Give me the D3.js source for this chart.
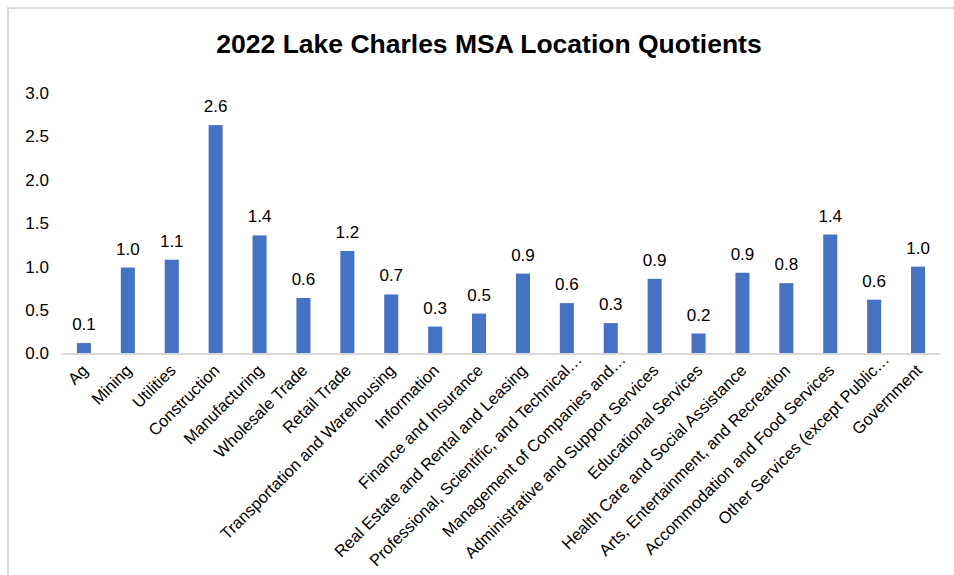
<!DOCTYPE html>
<html>
<head>
<meta charset="utf-8">
<script src="https://cdn.jsdelivr.net/npm/d3@7"></script>
<style>
  html, body { margin: 0; padding: 0; background: #fff; }
  svg { display: block; font-family: "Liberation Sans", Arial, sans-serif; }
</style>
</head>
<body>
<svg id="chart" width="954" height="575"></svg>
<script>
// Industry categories (as labelled on the axis)
const categories = [
  "Ag", "Mining", "Utilities", "Construction", "Manufacturing", "Wholesale Trade",
  "Retail Trade", "Transportation and Warehousing", "Information",
  "Finance and Insurance", "Real Estate and Rental and Leasing",
  "Professional, Scientific, and Technical…", "Management of Companies and…",
  "Administrative and Support Services", "Educational Services",
  "Health Care and Social Assistance", "Arts, Entertainment, and Recreation",
  "Accommodation and Food Services", "Other Services (except Public…", "Government"
];

// Location quotient per industry
const quotients = [
  0.12, 0.99, 1.08, 2.63, 1.36, 0.64,
  1.18, 0.68, 0.31,
  0.46, 0.92,
  0.58, 0.35,
  0.86, 0.23,
  0.93, 0.81,
  1.37, 0.62, 1.0
];

const yTicks = [0, 0.5, 1.0, 1.5, 2.0, 2.5, 3.0];
const title = "2022 Lake Charles MSA Location Quotients";

const svg = d3.select("#chart");

// chart frame
svg.append("path")
  .attr("d", "M8,575 V8 H954")
  .attr("fill", "none")
  .attr("stroke", "#d9d9d9")
  .attr("stroke-width", 2);

svg.append("text")
  .attr("x", 489)
  .attr("y", 53)
  .attr("text-anchor", "middle")
  .attr("font-size", 26.5)
  .attr("font-weight", "bold")
  .attr("fill", "#000")
  .text(title);

const x = d3.scaleBand()
  .domain(categories)
  .range([62, 940])
  .paddingInner(0.68)
  .paddingOuter(0.34);

const y = d3.scaleLinear()
  .domain([0, 3])
  .range([353.5, 93]);

// y axis labels (no axis line, no gridlines)
const yAxis = svg.append("g")
  .attr("transform", "translate(49,0)")
  .call(d3.axisLeft(y).tickValues(yTicks).tickFormat(d3.format(".1f")).tickSize(0).tickPadding(0));
yAxis.select(".domain").remove();
yAxis.selectAll("text")
  .attr("font-size", 17)
  .attr("font-family", "Liberation Sans, Arial, sans-serif")
  .attr("fill", "#000");

// bars
svg.append("g")
  .selectAll("rect")
  .data(categories)
  .join("rect")
  .attr("x", d => x(d))
  .attr("width", x.bandwidth())
  .attr("y", (d, i) => y(quotients[i]))
  .attr("height", (d, i) => y(0) - y(quotients[i]))
  .attr("fill", "#4472C4");

// value labels
svg.append("g")
  .selectAll("text")
  .data(categories)
  .join("text")
  .attr("x", d => x(d) + x.bandwidth() / 2)
  .attr("y", (d, i) => y(quotients[i]) - 13)
  .attr("text-anchor", "middle")
  .attr("font-size", 17)
  .attr("fill", "#000")
  .text((d, i) => d3.format(".1f")(quotients[i]));

// x axis with rotated category labels; shortened labels sit a little further along the slant
const xAxis = svg.append("g")
  .attr("transform", `translate(0,${y(0)})`)
  .call(d3.axisBottom(x).tickSize(0).tickPadding(0));
xAxis.select(".domain")
  .attr("stroke", "#d9d9d9")
  .attr("stroke-width", 2);
xAxis.selectAll(".tick text")
  .attr("font-size", 16.5)
  .attr("font-family", "Liberation Sans, Arial, sans-serif")
  .attr("fill", "#000")
  .attr("text-anchor", "end")
  .attr("dy", null)
  .attr("y", 0)
  .attr("transform", d => d.endsWith("…")
    ? "translate(16,7) rotate(-45)"
    : "translate(5,18) rotate(-45)");
</script>
</body>
</html>
